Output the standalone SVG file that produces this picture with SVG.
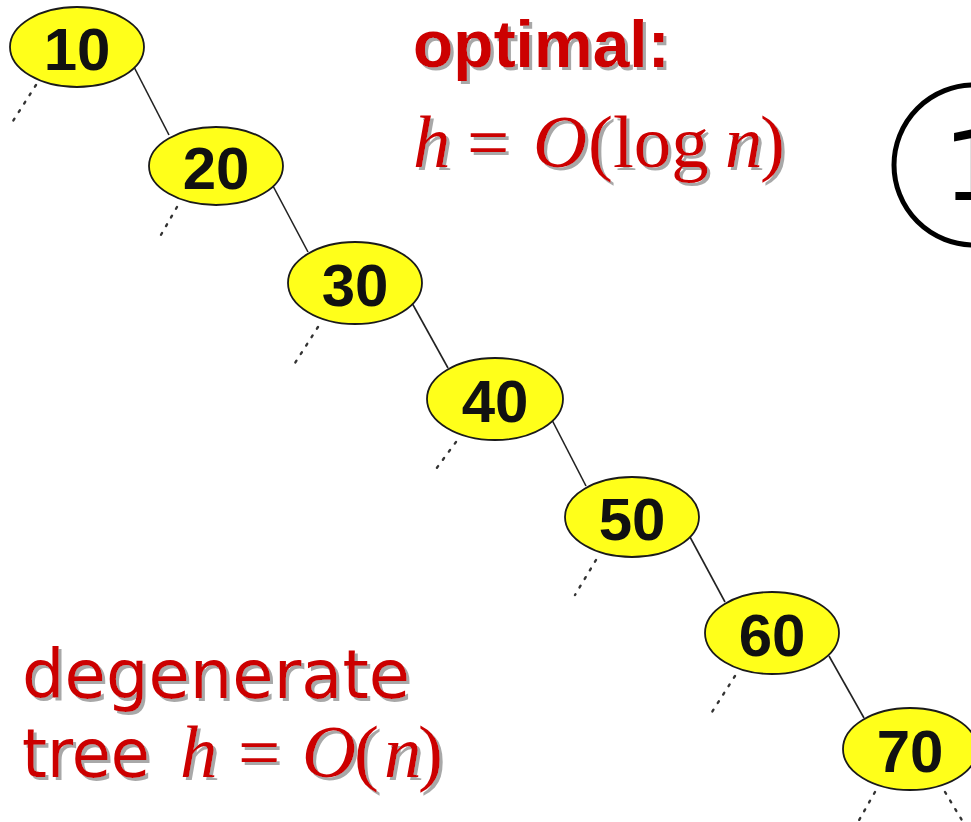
<svg xmlns="http://www.w3.org/2000/svg" width="971" height="822" viewBox="0 0 971 822">
<defs>
<filter id="sh" x="-5%" y="-10%" width="115%" height="130%">
<feDropShadow dx="3" dy="3" stdDeviation="0.6" flood-color="#a8a8a8" flood-opacity="1"/>
</filter>
<style>
.node ellipse{fill:#ffff1a;stroke:#1a1a1a;stroke-width:1.8}
.node text{font-family:"Liberation Sans",Arial,sans-serif;font-weight:bold;font-size:60px;fill:#111;text-anchor:middle}
.edge{stroke:#222;stroke-width:1.6;fill:none}
.dot{stroke:#333;stroke-width:2.4;fill:none;stroke-dasharray:2 8;stroke-linecap:round}
.red{fill:#cc0000;filter:url(#sh)}
.serif{font-family:"Liberation Serif","Times New Roman",serif;font-size:75px}
.it{font-style:italic}
</style>
</defs>
<rect width="971" height="822" fill="#ffffff"/>

<g id="connectors">
<line class="edge" x1="134" y1="67" x2="169" y2="135"/>
<line class="edge" x1="273" y1="186" x2="308" y2="252"/>
<line class="edge" x1="412" y1="303" x2="448" y2="368"/>
<line class="edge" x1="552" y1="420" x2="586" y2="486"/>
<line class="edge" x1="690" y1="537" x2="725" y2="602"/>
<line class="edge" x1="829" y1="656" x2="864" y2="718"/>
<line class="dot" x1="36" y1="85" x2="13" y2="121"/>
<line class="dot" x1="177" y1="207" x2="158" y2="240"/>
<line class="dot" x1="318" y1="327" x2="295" y2="363"/>
<line class="dot" x1="456" y1="442" x2="433" y2="473"/>
<line class="dot" x1="596" y1="560" x2="575" y2="595"/>
<line class="dot" x1="735" y1="676" x2="712" y2="712"/>
<line class="dot" x1="875" y1="792" x2="858" y2="822"/>
<line class="dot" x1="945" y1="792" x2="963" y2="822"/>
</g>

<g id="n10" class="node"><ellipse cx="77" cy="47" rx="67" ry="40"/><text x="77" y="70">10</text></g>
<g id="n20" class="node"><ellipse cx="216" cy="166" rx="67" ry="39"/><text x="216" y="189">20</text></g>
<g id="n30" class="node"><ellipse cx="355" cy="283" rx="67" ry="41"/><text x="355" y="306">30</text></g>
<g id="n40" class="node"><ellipse cx="495" cy="399" rx="68" ry="41"/><text x="495" y="422">40</text></g>
<g id="n50" class="node"><ellipse cx="632" cy="517" rx="67" ry="40"/><text x="632" y="540">50</text></g>
<g id="n60" class="node"><ellipse cx="772" cy="633" rx="67" ry="41"/><text x="772" y="656">60</text></g>
<g id="n70" class="node"><ellipse cx="910" cy="749" rx="67" ry="41"/><text x="910" y="772">70</text></g>

<g id="circle1">
<circle cx="974" cy="165" r="80" fill="none" stroke="#000" stroke-width="5"/>
<text x="974" y="200" font-family="DejaVu Sans,sans-serif" font-size="96" text-anchor="middle" fill="#000">1</text>
</g>

<g id="optimal" class="red">
<text x="413" y="67" font-family="Liberation Sans,Arial,sans-serif" font-weight="bold" font-size="66">optimal:</text>
<text class="serif" y="167"><tspan x="413" class="it">h</tspan><tspan x="467">=</tspan><tspan x="533" class="it">O</tspan><tspan x="588">(log</tspan><tspan x="725" class="it">n</tspan><tspan x="760">)</tspan></text>
</g>

<g id="degenerate" class="red">
<text x="22" y="698" font-family="DejaVu Sans,Verdana,sans-serif" font-size="68" textLength="388" lengthAdjust="spacingAndGlyphs">degenerate</text>
<text x="22" y="777" font-family="DejaVu Sans,Verdana,sans-serif" font-size="68" textLength="128" lengthAdjust="spacingAndGlyphs">tree</text>
<text class="serif" y="777"><tspan x="180" class="it">h</tspan><tspan x="238">=</tspan><tspan x="302" class="it">O</tspan><tspan x="354">(</tspan><tspan x="384" class="it">n</tspan><tspan x="418">)</tspan></text>
</g>
</svg>
